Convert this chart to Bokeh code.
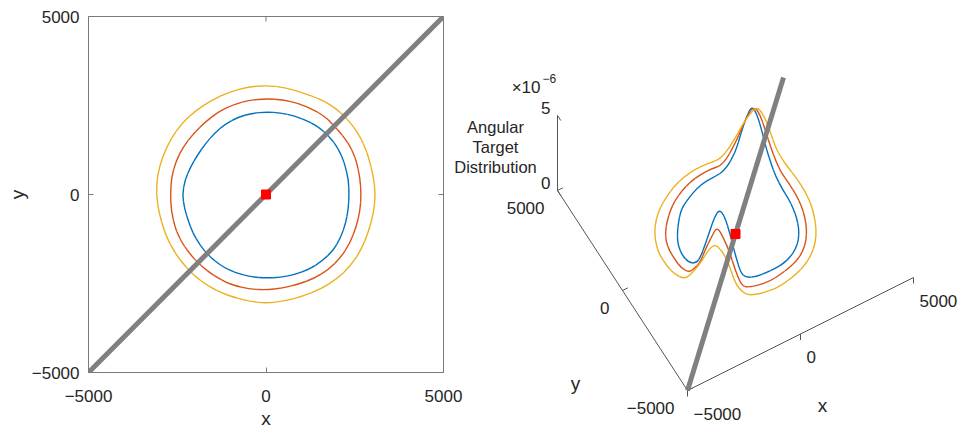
import numpy as np
from bokeh.plotting import figure
from bokeh.layouts import row
from bokeh.models import Range1d, FixedTicker, GlobalInlineStyleSheet
from bokeh.core.properties import value
from bokeh.embed import file_html
from bokeh.resources import INLINE

# ---------------- data ----------------
LIM = [-5000, 5000]
TICKS = [-5000, 0, 5000]
TICK_LABELS = ["\u22125000", "0", "5000"]
Z_TICKS = [0, 5]            # in units of 1e-6
Z_TICK_LABELS = ["0", "5"]
Z_MAX = 5
Z_LABEL = "Angular\nTarget\nDistribution"

# gray line (heading) end points and target position
LINE_X = [-5000, 5000]
LINE_Y = [-5000, 5000]
TARGET_X = [0]
TARGET_Y = [0]

# contour readings: polar angle (deg), radius (m), height (x1e-6)
ANG = [0, 10, 20, 25, 30, 35, 40, 45, 50, 55, 60,
       70, 80, 90, 100, 110, 120, 130, 140, 150, 160, 170, 180, 190, 200,
       205, 210, 215, 220, 225, 230, 235, 240, 245, 250,
       260, 270, 280, 290, 300, 310, 320, 330, 340, 350]

R_BLUE = [2340, 2360, 2370, 2385, 2395, 2405, 2410, 2405, 2400, 2390, 2375,
          2350, 2330, 2320, 2315, 2310, 2290, 2250, 2225, 2225, 2260, 2320, 2355, 2330, 2310,
          2315, 2325, 2330, 2340, 2350, 2355, 2358, 2360, 2358, 2355,
          2350, 2345, 2365, 2390, 2425, 2450, 2460, 2430, 2385, 2355]
Z_BLUE = [0.6, 0.65, 1.15, 1.7, 2.4, 3.5, 4.5, 5.0, 4.2, 3.1, 1.8,
          0.7, 0.45, 0.4, 0.3, 0.15, 0.15, 0.25, 0.1, 0.1, 0.2, 0.35, 0.35, 0.35, 0.75,
          1.4, 2.35, 3.4, 4.5, 5.1, 4.7, 3.6, 2.2, 1.0, 0.65,
          0.55, 0.55, 0.5, 0.4, 0.35, 0.3, 0.3, 0.4, 0.45, 0.5]

R_RED = [2680, 2690, 2710, 2718, 2725, 2722, 2720, 2715, 2740, 2738, 2730,
         2725, 2700, 2690, 2690, 2688, 2680, 2660, 2665, 2690, 2705, 2705, 2690, 2710, 2722,
         2722, 2722, 2718, 2712, 2710, 2705, 2705, 2705, 2708, 2710,
         2695, 2680, 2670, 2680, 2720, 2745, 2750, 2730, 2700, 2690]
Z_RED = [0.6, 0.72, 0.95, 1.43, 2.1, 3.1, 4.1, 4.5, 3.85, 2.9, 1.9,
         0.5, 0.45, 0.38, 0.3, 0.2, 0.15, 0.15, 0.1, 0.1, 0.2, 0.3, 0.35, 0.35, 0.62,
         1.13, 1.66, 2.75, 3.65, 4.5, 3.85, 3.0, 1.7, 0.72, 0.53,
         0.5, 0.45, 0.45, 0.4, 0.35, 0.3, 0.3, 0.4, 0.45, 0.5]

R_YEL = [3085, 3070, 3070, 3085, 3100, 3110, 3115, 3115, 3115, 3100, 3080,
         3040, 3055, 3065, 3065, 3060, 3055, 3080, 3105, 3105, 3100, 3110, 3090, 3060, 3040,
         3038, 3036, 3037, 3038, 3040, 3040, 3040, 3035, 3030, 3025,
         3040, 3055, 3040, 3040, 3070, 3100, 3115, 3100, 3070, 3075]
Z_YEL = [0.5, 0.7, 0.95, 1.2, 1.6, 2.6, 3.5, 3.9, 3.3, 2.6, 1.7,
         0.45, 0.3, 0.25, 0.2, 0.15, 0.1, 0.1, 0.05, 0.05, 0.15, 0.25, 0.3, 0.3, 0.55,
         1.05, 1.68, 2.4, 3.3, 3.8, 3.5, 2.7, 1.35, 0.76, 0.47,
         0.45, 0.42, 0.4, 0.35, 0.3, 0.3, 0.3, 0.35, 0.4, 0.45]

COLORS = ["#0072BD", "#D95319", "#EDB120"]
FONT = "Liberation Sans"
TXT = "#262626"
FRAME_COL = "#7a7a7a"
AX_COL = "#555555"
GRAY = "#808080"


def contour_xy(r, ang):
    a = np.deg2rad(np.asarray(ang, float))
    rr = np.asarray(r, float)
    return rr * np.cos(a), rr * np.sin(a)


def smooth_closed(p, x, y, color, width):
    """Draw a closed curve through the read points as joined quadratic Bezier pieces."""
    x = np.asarray(x, float)
    y = np.asarray(y, float)
    xm = (x + np.roll(x, -1)) / 2
    ym = (y + np.roll(y, -1)) / 2
    p.quadratic(x0=np.roll(xm, 1), y0=np.roll(ym, 1), x1=xm, y1=ym, cx=x, cy=y,
                line_color=color, line_width=width)


contours = [(R_BLUE, Z_BLUE), (R_RED, Z_RED), (R_YEL, Z_YEL)]

# ---------------- left: top view ----------------
p1 = figure(frame_width=355, frame_height=356, x_range=Range1d(*LIM), y_range=Range1d(*LIM),
            output_backend="svg", toolbar_location=None,
            min_border_left=88, min_border_right=20, min_border_top=16, min_border_bottom=54)
p1.frame_align = False
p1.grid.visible = False
p1.outline_line_color = FRAME_COL
p1.outline_line_width = 1

for ax in (p1.xaxis[0], p1.yaxis[0]):
    ax.ticker = FixedTicker(ticks=TICKS)
    ax.major_label_overrides = {t: l for t, l in zip(TICKS, TICK_LABELS)}
    ax.major_tick_in = 5
    ax.major_tick_out = 0
    ax.minor_tick_line_color = None
    ax.axis_line_color = FRAME_COL
    ax.major_tick_line_color = FRAME_COL
    ax.major_label_text_font = FONT
    ax.major_label_text_font_size = "17px"
    ax.major_label_text_color = TXT
    ax.axis_label_text_font = FONT
    ax.axis_label_text_font_size = "19px"
    ax.axis_label_text_font_style = "normal"
    ax.axis_label_text_color = TXT
p1.xaxis.axis_label = "x"
p1.yaxis.axis_label = "y"
p1.xaxis.major_label_standoff = 17
p1.yaxis.major_label_standoff = 9
p1.xaxis.axis_label_standoff = 3
p1.yaxis.axis_label_standoff = 1

# mirrored inward ticks on the top and right edges (half of each dash is clipped by the frame)
p1.scatter(TICKS, [LIM[1]] * len(TICKS), marker="dash", angle=np.pi / 2, size=10,
           line_color=FRAME_COL, line_width=1)
p1.scatter([LIM[1]] * len(TICKS), TICKS, marker="dash", size=10,
           line_color=FRAME_COL, line_width=1)

for (r, z), c in zip(contours, COLORS):
    cx, cy = contour_xy(r, ANG)
    smooth_closed(p1, cx, cy, c, 1.4)
p1.line(LINE_X, LINE_Y, line_color=GRAY, line_width=5)
p1.scatter(TARGET_X, TARGET_Y, marker="square", size=9, fill_color="red", line_color="red")

# ---------------- right: 3-D view (orthographic projection) ----------------
X0, W2, H2 = 451, 515, 426   # page-pixel extent of the 3-D panel
p2 = figure(width=W2, height=H2, x_range=Range1d(X0, X0 + W2), y_range=Range1d(H2, 0),
            output_backend="svg", toolbar_location=None,
            x_axis_location=None, y_axis_location=None, min_border=0)
p2.frame_align = False
p2.grid.visible = False
p2.outline_line_color = None
p2.background_fill_alpha = 0
p2.border_fill_alpha = 0
p2.styles = {"margin-left": "-12px"}

# screen placement of the axes box: origin corner and axis vectors (pixels, y down)
O = np.array([687.0, 390.0])
EX = np.array([226.0, -113.0])
EY = np.array([-130.0, -200.0])
EZ = np.array([0.0, -75.0])


def proj(x, y, z):
    x = np.atleast_1d(np.asarray(x, float))
    y = np.atleast_1d(np.asarray(y, float))
    z = np.atleast_1d(np.asarray(z, float))
    xn = (x - LIM[0]) / (LIM[1] - LIM[0])
    yn = (y - LIM[0]) / (LIM[1] - LIM[0])
    zn = z / Z_MAX
    sx = O[0] + xn * EX[0] + yn * EY[0] + zn * EZ[0]
    sy = O[1] + xn * EX[1] + yn * EY[1] + zn * EZ[1]
    return sx, sy


# x axis, y axis, z axis lines
sx, sy = proj(LIM, [LIM[0]] * 2, [0, 0])
p2.line(sx, sy, line_color=AX_COL, line_width=1)
sx, sy = proj([LIM[0]] * 2, LIM, [0, 0])
p2.line(sx, sy, line_color=AX_COL, line_width=1)
sx, sy = proj([LIM[0]] * 2, [LIM[1]] * 2, [0, Z_MAX])
p2.line(sx, sy, line_color=AX_COL, line_width=1)

TL = 6.0
eyu = EY / np.linalg.norm(EY)
exu = EX / np.linalg.norm(EX)
tick_font = dict(text_font=value(FONT), text_font_size="17px", text_color=TXT,
                 text_baseline="middle")
# x ticks (vertical, downward)
tx, ty = proj(TICKS, [LIM[0]] * 3, [0] * 3)
p2.segment(tx, ty, tx, ty + TL, line_color=AX_COL, line_width=1)
p2.text(tx, ty, text=TICK_LABELS, x_offset=6, y_offset=23, text_align="left", **tick_font)
# y ticks
tx, ty = proj([LIM[0]] * 3, TICKS, [0] * 3)
p2.segment(tx, ty, tx + TL * exu[0], ty + TL * exu[1], line_color=AX_COL, line_width=1)
p2.text(tx, ty, text=TICK_LABELS, x_offset=-13, y_offset=17, text_align="right", **tick_font)
# z ticks
tx, ty = proj([LIM[0]] * 2, [LIM[1]] * 2, Z_TICKS)
p2.segment(tx, ty, tx - TL * eyu[0], ty - TL * eyu[1], line_color=AX_COL, line_width=1)
p2.text(tx, ty, text=Z_TICK_LABELS, x_offset=-7, y_offset=-8, text_align="right", **tick_font)
# exponent
zt_x, zt_y = proj([LIM[0]], [LIM[1]], [Z_MAX])
p2.text(zt_x, zt_y, text=["\u00d710"], x_offset=-17, y_offset=-28, text_align="right", **tick_font)
p2.text(zt_x, zt_y, text=["\u22126"], x_offset=-15, y_offset=-37, text_align="left",
        text_font=value(FONT), text_font_size="12px", text_color=TXT, text_baseline="middle")
# axis labels
lab_font = dict(text_font=value(FONT), text_font_size="19px", text_color=TXT,
                text_baseline="middle", text_align="center")
mx, my = proj([0], [LIM[0]], [0])
p2.text(mx, my, text=["x"], x_offset=22, y_offset=71, **lab_font)
mx, my = proj([LIM[0]], [0], [0])
p2.text(mx, my, text=["y"], x_offset=-47, y_offset=93, **lab_font)
mx, my = proj([LIM[0]], [LIM[1]], [Z_MAX / 2])
p2.text(mx, my, text=[Z_LABEL], x_offset=-62, y_offset=-6, text_align="center",
        text_baseline="middle", text_font=value(FONT), text_font_size="16.5px",
        text_color=TXT, text_line_height=1.1)

# contours in 3-D
for (r, z), c in zip(contours, COLORS):
    cx, cy = contour_xy(r, ANG)
    sx, sy = proj(cx, cy, z)
    smooth_closed(p2, sx, sy, c, 1.4)

sx, sy = proj(LINE_X, LINE_Y, [0, 0])
p2.line(sx, sy, line_color=GRAY, line_width=5)
sx, sy = proj(TARGET_X, TARGET_Y, [0])
p2.scatter(sx, sy, marker="square", size=9, fill_color="red", line_color="red")

page_css = GlobalInlineStyleSheet(css="html, body { overflow: hidden; }")
layout = row(p1, p2, stylesheets=[page_css])
open("out.html", "w").write(file_html(layout, INLINE))
